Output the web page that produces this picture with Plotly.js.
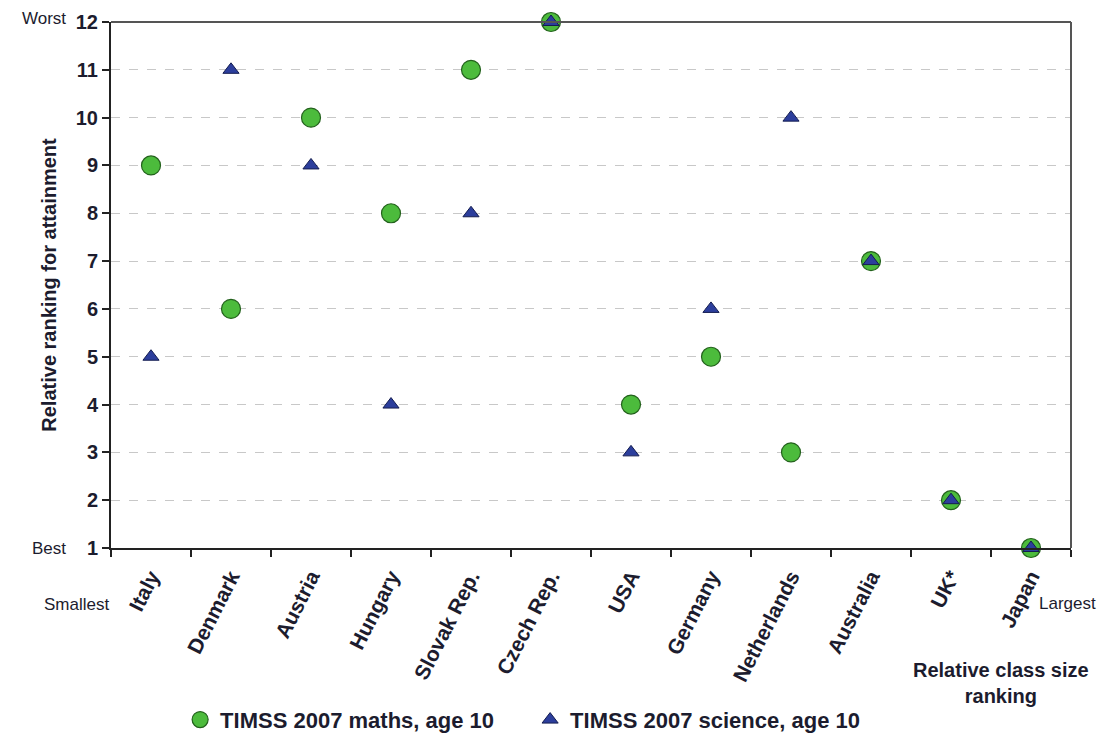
<!DOCTYPE html>
<html><head><meta charset="utf-8">
<script src="https://cdn.plot.ly/plotly-3.0.1.min.js"></script>
<style>html,body{margin:0;padding:0;background:#fff}#chart{width:1100px;height:739px}</style>
</head><body><div id="chart"></div>
<script>
const countries = ["Italy","Denmark","Austria","Hungary","Slovak Rep.","Czech Rep.","USA","Germany","Netherlands","Australia","UK*","Japan"];
const maths = [9,6,10,8,11,12,4,5,3,7,2,1];
const science = [5,11,9,4,8,12,3,6,10,7,2,1];
const yTicks = [1,2,3,4,5,6,7,8,9,10,11,12];

const font = "Liberation Sans, Arial, sans-serif";
const ink = "#1c1c2e";

const traces = [
  {x: countries, y: maths, type: "scatter", mode: "markers", name: "TIMSS 2007 maths, age 10",
   cliponaxis: false,
   marker: {symbol: "circle", size: 19, color: "#4cbb3c", line: {color: "#23611c", width: 1.2}}},
  {x: countries, y: science, type: "scatter", mode: "markers", name: "TIMSS 2007 science, age 10",
   cliponaxis: false,
   marker: {symbol: "triangle-up", size: 14, color: "#2c3e9c", line: {color: "#141d50", width: 1}}}
];

const layout = {
  width: 1100, height: 739,
  margin: {l: 111, r: 29, t: 22, b: 191},
  paper_bgcolor: "#fff", plot_bgcolor: "#fff",
  font: {family: font, color: ink},
  showlegend: true,
  legend: {orientation: "h", x: 0.072, xanchor: "left", yref: "container", y: 0.026, yanchor: "middle",
    font: {family: font, size: 22, color: ink, weight: "bold"},
    entrywidth: 305, entrywidthmode: "pixels", itemwidth: 30},
  xaxis: {type: "category", range: [-0.5, 11.5], tickson: "boundaries", automargin: false,
    ticks: "outside", ticklen: 7, tickcolor: "#222", tickwidth: 1.5, ticklabelstandoff: 6,
    showline: true, linecolor: "#222", linewidth: 2, showgrid: false, zeroline: false,
    tickangle: -63, tickfont: {family: font, size: 21, color: ink, weight: "bold"}},
  yaxis: {range: [1, 12], tickvals: yTicks, ticktext: yTicks.map(String), automargin: false,
    ticks: "outside", ticklen: 7, tickcolor: "#222", tickwidth: 1.5,
    showline: true, linecolor: "#222", linewidth: 2,
    showgrid: true, gridcolor: "#c8c8c8", griddash: "dash", gridwidth: 1.2, zeroline: false,
    tickfont: {family: font, size: 20, color: ink, weight: "bold"},
    title: {text: "Relative ranking for attainment", standoff: 14,
      font: {family: font, size: 20, color: ink, weight: "bold"}}},
  shapes: [
    {type: "line", xref: "paper", yref: "paper", x0: 0, x1: 1, y0: 1, y1: 1, line: {color: "#555", width: 2}},
    {type: "line", xref: "paper", yref: "paper", x0: 1, x1: 1, y0: 0, y1: 1, line: {color: "#555", width: 2}}
  ],
  annotations: [
    {text: "Worst", xref: "paper", yref: "y", x: -0.045, y: 12, yshift: 4, xanchor: "right", yanchor: "middle", showarrow: false,
     font: {family: font, size: 17, color: ink}},
    {text: "Best", xref: "paper", yref: "y", x: -0.045, y: 1, xanchor: "right", yanchor: "middle", showarrow: false,
     font: {family: font, size: 17, color: ink}},
    {text: "Smallest", xref: "paper", yref: "paper", x: 0.0, y: -0.108, xanchor: "right", yanchor: "middle", showarrow: false,
     font: {family: font, size: 17, color: ink}},
    {text: "Largest", xref: "paper", yref: "paper", x: 1.028, y: -0.105, xanchor: "right", yanchor: "middle", showarrow: false,
     font: {family: font, size: 17, color: ink}},
    {text: "Relative class size<br>ranking", xref: "paper", yref: "paper", x: 0.927, y: -0.207, xanchor: "center", yanchor: "top", showarrow: false,
     font: {family: font, size: 20, color: ink, weight: "bold"}}
  ]
};

Plotly.newPlot("chart", traces, layout, {displayModeBar: false, responsive: false});
</script>
</body></html>
